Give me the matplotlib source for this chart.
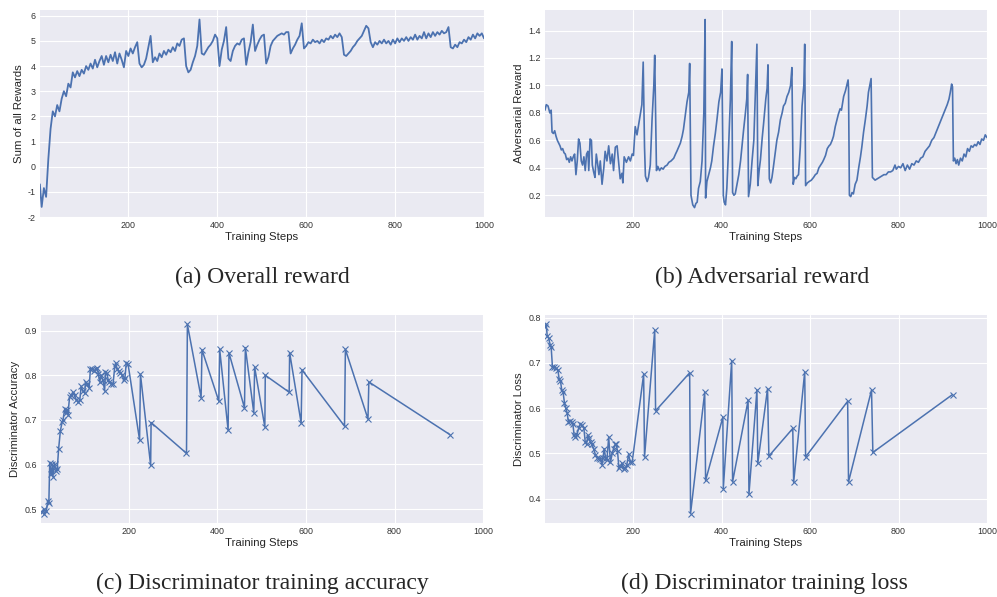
import matplotlib
matplotlib.use('Agg')
import matplotlib.pyplot as plt

# (a) overall reward, read every 5 steps
overall_steps = [1] + list(range(5, 1001, 5))
overall_reward = [
    -0.7, -1.6, -0.85, -1.2, 0.3, 1.5, 2.2, 2.0, 2.45, 2.2,
    2.7, 3.0, 2.8, 3.3, 3.15, 3.75, 3.55, 3.8, 3.6, 3.85,
    3.7, 4.0, 3.85, 4.1, 3.9, 4.25, 3.95, 4.2, 4.4, 4.05,
    4.4, 4.15, 4.45, 4.2, 4.55, 4.1, 4.5, 4.25, 3.95, 4.6,
    4.4, 4.7, 4.5, 4.75, 4.95, 4.1, 3.95, 4.05, 4.3, 4.75,
    5.2, 4.15, 4.35, 4.2, 4.5, 4.35, 4.6, 4.45, 4.65, 4.55,
    4.75, 4.6, 4.9, 4.8, 5.05, 5.1, 4.0, 3.75, 3.85, 4.15,
    4.4, 4.8, 5.85, 4.5, 4.45, 4.6, 4.75, 4.85, 5.0, 5.25,
    5.1, 4.0, 4.65, 5.0, 5.55, 4.3, 4.2, 4.6, 4.8, 4.9,
    4.85, 5.05, 5.1, 4.05, 4.55, 4.95, 5.65, 4.6, 4.85, 5.05,
    5.2, 5.25, 4.1, 4.35, 4.8, 5.0, 5.1, 5.2, 5.25, 5.3,
    5.25, 5.35, 5.35, 4.5, 4.7, 4.85, 5.05, 5.2, 5.7, 4.7,
    4.8, 4.95, 4.9, 5.05, 4.95, 5.0, 4.9, 5.05, 4.95, 5.1,
    5.05, 5.2, 5.1, 5.25, 5.15, 5.3, 5.15, 4.45, 4.4, 4.5,
    4.6, 4.75, 4.85, 5.0, 5.1, 5.2, 5.4, 5.6, 5.5, 4.95,
    4.75, 4.95, 4.85, 5.0, 4.9, 5.05, 4.9, 5.0, 4.85, 5.05,
    4.9, 5.1, 4.95, 5.1, 5.0, 5.15, 5.0, 5.15, 5.05, 5.25,
    5.05, 5.2, 5.1, 5.35, 5.1, 5.3, 5.15, 5.35, 5.2, 5.35,
    5.25, 5.4, 5.3, 5.35, 5.55, 4.75, 4.7, 4.85, 4.75, 4.95,
    4.9, 5.05, 4.95, 5.15, 5.05, 5.25, 5.1, 5.3, 5.2, 5.3,
    5.1,
]

# (b) adversarial reward
adv_steps = [
    1, 4, 8, 12, 15, 17, 20, 23, 26, 29, 32, 35, 38, 41, 44, 47, 50, 53, 56, 59,
    62, 65, 68, 71, 74, 77, 80, 83, 86, 89, 92, 95, 98, 100, 103, 106, 108, 111, 114, 117,
    120, 123, 126, 130, 134, 137, 141, 145, 149, 153, 156, 160, 164, 168, 171, 175, 177, 180, 185, 190,
    194, 198, 201, 205, 209, 213, 217, 220, 223, 226, 228, 232, 235, 239, 243, 247, 249, 253, 256, 260,
    264, 268, 272, 277, 281, 286, 292, 296, 299, 303, 307, 311, 314, 318, 322, 326, 328, 331, 335, 339,
    342, 345, 348, 352, 356, 360, 363, 364, 367, 371, 375, 378, 382, 386, 390, 394, 398, 401, 404, 406,
    409, 412, 416, 420, 423, 425, 428, 431, 435, 439, 443, 446, 450, 454, 457, 459, 461, 465, 469, 473,
    476, 480, 482, 485, 488, 492, 495, 500, 503, 505, 508, 511, 514, 517, 521, 525, 529, 533, 537, 540,
    544, 548, 552, 556, 559, 562, 565, 568, 571, 574, 578, 582, 586, 588, 590, 594, 598, 603, 608, 612,
    616, 620, 624, 628, 631, 635, 639, 643, 646, 650, 653, 657, 661, 664, 668, 671, 674, 676, 680, 683,
    686, 687, 689, 692, 695, 698, 702, 706, 710, 714, 717, 721, 725, 729, 732, 735, 738, 741, 744, 747,
    752, 757, 762, 767, 772, 777, 782, 787, 792, 795, 800, 805, 810, 815, 820, 825, 830, 835, 840, 845,
    850, 855, 860, 865, 870, 875, 880, 885, 890, 895, 900, 905, 910, 914, 917, 920, 922, 924, 927, 930,
    933, 936, 940, 944, 948, 952, 956, 960, 964, 968, 972, 976, 980, 984, 988, 992, 996, 1000,
]
adv_reward = [
    0.82, 0.86, 0.85, 0.8, 0.82, 0.66, 0.65, 0.67, 0.63, 0.6, 0.58, 0.56, 0.53, 0.54, 0.51, 0.5, 0.46, 0.47, 0.44, 0.48,
    0.45, 0.48, 0.5, 0.35, 0.45, 0.61, 0.58, 0.45, 0.42, 0.48, 0.38, 0.5, 0.52, 0.38, 0.61, 0.6, 0.42, 0.37, 0.33, 0.5,
    0.43, 0.35, 0.45, 0.28, 0.4, 0.52, 0.45, 0.56, 0.43, 0.5, 0.38, 0.55, 0.56, 0.42, 0.32, 0.36, 0.29, 0.48, 0.44, 0.48,
    0.45, 0.5, 0.49, 0.7, 0.64, 0.72, 0.8, 0.86, 1.17, 0.55, 0.34, 0.3, 0.33, 0.42, 0.75, 1.0, 1.22, 0.38, 0.41, 0.38,
    0.4, 0.39, 0.41, 0.42, 0.44, 0.45, 0.47, 0.5, 0.52, 0.55, 0.58, 0.63, 0.68, 0.78, 0.88, 0.95, 1.16, 0.2, 0.13, 0.11,
    0.14, 0.15, 0.25, 0.3, 0.45, 0.8, 1.48, 0.18, 0.3, 0.35, 0.4, 0.45, 0.56, 0.65, 0.76, 0.88, 0.95, 1.12, 0.2, 0.15,
    0.13, 0.25, 0.55, 0.9, 1.32, 0.22, 0.2, 0.21, 0.28, 0.35, 0.45, 0.55, 0.68, 0.8, 0.9, 1.08, 0.19, 0.28, 0.45, 0.6,
    0.9, 1.3, 0.27, 0.38, 0.46, 0.62, 0.72, 0.9, 0.98, 1.15, 0.32, 0.29, 0.33, 0.4, 0.5, 0.6, 0.66, 0.75, 0.8, 0.85,
    0.87, 0.92, 0.95, 1.0, 1.13, 0.28, 0.33, 0.32, 0.34, 0.35, 0.55, 0.85, 1.0, 1.3, 0.27, 0.29, 0.3, 0.31, 0.33, 0.35,
    0.36, 0.4, 0.42, 0.44, 0.46, 0.49, 0.54, 0.56, 0.57, 0.6, 0.63, 0.7, 0.75, 0.79, 0.83, 0.82, 0.88, 0.92, 0.96, 1.0,
    1.04, 0.98, 0.2, 0.19, 0.22, 0.21, 0.28, 0.31, 0.4, 0.48, 0.55, 0.66, 0.75, 0.85, 0.95, 1.0, 1.05, 0.33, 0.32, 0.31,
    0.32, 0.33, 0.34, 0.35, 0.35, 0.37, 0.37, 0.38, 0.42, 0.39, 0.41, 0.4, 0.43, 0.38, 0.42, 0.39, 0.43, 0.42, 0.45, 0.44,
    0.47, 0.48, 0.52, 0.54, 0.56, 0.6, 0.62, 0.66, 0.7, 0.74, 0.78, 0.82, 0.86, 0.9, 0.95, 1.01, 0.99, 0.45, 0.47, 0.43,
    0.46, 0.42, 0.47, 0.45, 0.5, 0.48, 0.54, 0.52, 0.56, 0.55, 0.57, 0.56, 0.59, 0.57, 0.61, 0.6, 0.64, 0.62,
]

# (c) discriminator accuracy
acc_steps = [
    4, 7, 9, 13, 17, 19, 21, 24, 27, 28, 32, 36, 38, 41, 45, 49, 51, 55, 57, 61,
    62, 66, 70, 73, 77, 81, 85, 89, 92, 96, 100, 102, 105, 110, 113, 117, 121, 125, 128, 131,
    134, 137, 141, 145, 147, 150, 153, 156, 160, 164, 168, 170, 173, 177, 180, 185, 188, 191, 194, 198,
    224, 226, 249, 250, 330, 332, 363, 365, 403, 405, 424, 426, 461, 463, 482, 484, 507, 508, 562, 563,
    589, 591, 687, 689, 740, 742, 925,
]
disc_acc = [
    0.494, 0.5, 0.49, 0.495, 0.519, 0.513, 0.604, 0.578, 0.6, 0.573, 0.6, 0.585, 0.59, 0.634, 0.675, 0.695, 0.7, 0.725, 0.715, 0.722,
    0.712, 0.752, 0.756, 0.762, 0.755, 0.745, 0.74, 0.745, 0.775, 0.765, 0.76, 0.785, 0.78, 0.772, 0.815, 0.815, 0.81, 0.815, 0.817, 0.802,
    0.785, 0.8, 0.79, 0.765, 0.808, 0.805, 0.79, 0.785, 0.78, 0.78, 0.82, 0.828, 0.815, 0.81, 0.805, 0.8, 0.79, 0.795, 0.828, 0.825,
    0.655, 0.802, 0.598, 0.694, 0.625, 0.914, 0.75, 0.857, 0.742, 0.858, 0.677, 0.85, 0.727, 0.862, 0.716, 0.818, 0.684, 0.8, 0.762, 0.851,
    0.693, 0.812, 0.686, 0.858, 0.702, 0.785, 0.667,
]

# (d) discriminator loss
loss_steps = [
    2, 4, 6, 9, 13, 15, 18, 22, 26, 30, 33, 36, 39, 42, 45, 48, 51, 54, 57, 61,
    64, 67, 70, 73, 77, 81, 85, 89, 92, 95, 98, 100, 104, 107, 111, 115, 119, 122, 126, 130,
    132, 135, 138, 141, 145, 149, 153, 156, 160, 162, 165, 168, 171, 175, 179, 183, 186, 190, 194, 198,
    224, 226, 249, 251, 328, 330, 362, 364, 403, 404, 423, 425, 460, 462, 480, 482, 504, 507, 561, 563,
    588, 590, 685, 687, 739, 742, 922,
]
disc_loss = [
    0.78, 0.785, 0.76, 0.755, 0.74, 0.735, 0.69, 0.69, 0.688, 0.685, 0.665, 0.66, 0.64, 0.635, 0.612, 0.6, 0.59, 0.57, 0.572, 0.57,
    0.565, 0.54, 0.537, 0.54, 0.555, 0.565, 0.562, 0.555, 0.525, 0.52, 0.54, 0.535, 0.525, 0.52, 0.51, 0.497, 0.49, 0.49, 0.488, 0.475,
    0.49, 0.51, 0.49, 0.485, 0.536, 0.48, 0.5, 0.51, 0.52, 0.52, 0.505, 0.468, 0.472, 0.478, 0.465, 0.468, 0.475, 0.498, 0.48, 0.48,
    0.675, 0.492, 0.772, 0.594, 0.678, 0.367, 0.635, 0.44, 0.58, 0.422, 0.705, 0.437, 0.617, 0.41, 0.64, 0.478, 0.643, 0.494, 0.555, 0.436,
    0.68, 0.492, 0.615, 0.437, 0.64, 0.502, 0.63,
]

captions = ['(a) Overall reward', '(b) Adversarial reward',
            '(c) Discriminator training accuracy', '(d) Discriminator training loss']
ylabels = ['Sum of all Rewards', 'Adversarial Reward', 'Discriminator Accuracy', 'Discriminator Loss']

plt.style.use('seaborn-v0_8-darkgrid')
plt.rcParams['font.family'] = ['Liberation Sans', 'DejaVu Sans']
plt.rcParams['axes.unicode_minus'] = False
blue = '#4C72B0'

fig = plt.figure(figsize=(9.97, 5.97), dpi=100)
ax_a = fig.add_axes([0.040, 0.6365, 0.4455, 0.3465])
ax_b = fig.add_axes([0.5466, 0.6365, 0.4434, 0.3465])
ax_c = fig.add_axes([0.041, 0.124, 0.4435, 0.3484])
ax_d = fig.add_axes([0.5466, 0.124, 0.4434, 0.3484])

ax_a.plot(overall_steps, overall_reward, color=blue, lw=1.3)
ax_b.plot(adv_steps, adv_reward, color=blue, lw=1.2)
ax_c.plot(acc_steps, disc_acc, color=blue, lw=1.1, marker='x', ms=3.8, mew=0.8)
ax_d.plot(loss_steps, disc_loss, color=blue, lw=1.1, marker='x', ms=3.8, mew=0.8)

for ax, lab in zip([ax_a, ax_b, ax_c, ax_d], ylabels):
    ax.set_xlim(1, 1000)
    ax.set_xticks([200, 400, 600, 800, 1000])
    ax.set_xlabel('Training Steps', fontsize=8.2, labelpad=1)
    ax.set_ylabel(lab, fontsize=8.2, labelpad=3)
    ax.tick_params(labelsize=6.4, pad=3, length=0, labelcolor='#333333')
    ax.grid(True, color='white', lw=0.8)

ax_a.set_yticks(range(-2, 7))
ax_b.set_yticks([0.2, 0.4, 0.6, 0.8, 1.0, 1.2, 1.4])
ax_c.set_yticks([0.5, 0.6, 0.7, 0.8, 0.9])
ax_d.set_yticks([0.4, 0.5, 0.6, 0.7, 0.8])

cap_pos = [(0.263, 0.536), (0.764, 0.536), (0.263, 0.023), (0.767, 0.023)]
for (x, y), txt in zip(cap_pos, captions):
    fig.text(x, y, txt, ha='center', va='center', fontsize=17,
             family=['Liberation Serif', 'DejaVu Serif'])

plt.savefig('out.png', dpi=100)
